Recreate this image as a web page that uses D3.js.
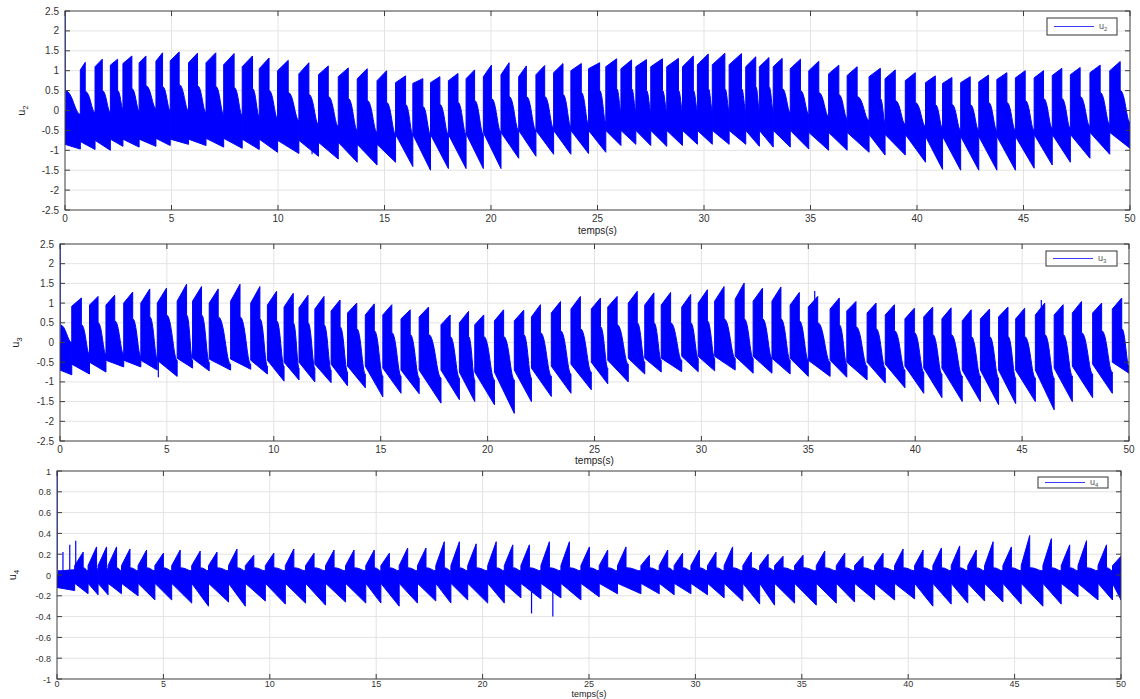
<!DOCTYPE html>
<html>
<head>
<meta charset="utf-8">
<script src="https://cdnjs.cloudflare.com/ajax/libs/d3/7.8.5/d3.min.js"></script>
<style>
  body { margin: 0; background: #fff; }
  text { font-family: "Liberation Sans", Arial, sans-serif; }
</style>
</head>
<body>
<svg id="chart" width="1140" height="699"></svg>
<script>
var timeTicks = [0, 5, 10, 15, 20, 25, 30, 35, 40, 45, 50];
var u23Ticks = [-2.5, -2, -1.5, -1, -0.5, 0, 0.5, 1, 1.5, 2, 2.5];
var u4Ticks = [-1, -0.8, -0.6, -0.4, -0.2, 0, 0.2, 0.4, 0.6, 0.8, 1];

// one row per oscillation burst:
// [start, peak time, top at start, top at peak, core after drop, core at next start, bottom at start, bottom at next start]
var u2Cycles = [
  [0, 0, 0.5, 0.5, 0.5, -0.1, -0.85, -0.97],
  [0.72, 0.95, 1.02, 1.21, 0.48, -0.05, -0.78, -0.98],
  [1.41, 1.75, 1.1, 1.29, 0.5, -0.05, -0.75, -1.0],
  [2.13, 2.47, 1.14, 1.29, 0.5, 0.05, -0.72, -0.9],
  [2.72, 3.14, 1.18, 1.37, 0.55, 0.0, -0.72, -0.92],
  [3.48, 3.8, 1.2, 1.37, 0.62, 0.05, -0.72, -0.9],
  [4.27, 4.58, 1.24, 1.45, 0.6, 0.0, -0.7, -0.88],
  [4.94, 5.36, 1.25, 1.47, 0.65, 0.0, -0.72, -0.85],
  [5.8, 6.22, 1.2, 1.44, 0.62, -0.05, -0.72, -0.88],
  [6.62, 7.08, 1.2, 1.45, 0.6, -0.1, -0.7, -0.92],
  [7.45, 7.94, 1.15, 1.43, 0.58, -0.12, -0.7, -0.95],
  [8.32, 8.8, 1.1, 1.37, 0.55, -0.15, -0.72, -0.98],
  [9.12, 9.58, 1.05, 1.32, 0.5, -0.2, -0.72, -1.05],
  [9.98, 10.48, 1.0, 1.26, 0.45, -0.25, -0.75, -1.08],
  [10.98, 11.45, 0.92, 1.2, 0.4, -0.35, -0.75, -1.15],
  [11.9, 12.36, 0.9, 1.12, 0.35, -0.4, -0.8, -1.22],
  [12.83, 13.3, 0.85, 1.07, 0.3, -0.5, -0.8, -1.3],
  [13.72, 14.19, 0.8, 1.05, 0.25, -0.55, -0.85, -1.37],
  [14.65, 15.1, 0.75, 1.0, 0.2, -0.6, -0.85, -1.3],
  [15.52, 15.99, 0.7, 0.87, 0.15, -0.6, -0.6, -1.41],
  [16.33, 16.8, 0.68, 0.8, 0.1, -0.6, -0.6, -1.5],
  [17.16, 17.6, 0.7, 0.85, 0.15, -0.6, -0.6, -1.46],
  [18.0, 18.45, 0.75, 0.93, 0.2, -0.6, -0.6, -1.46],
  [18.83, 19.23, 0.8, 1.02, 0.25, -0.6, -0.58, -1.46],
  [19.64, 20.02, 0.85, 1.14, 0.3, -0.55, -0.55, -1.46],
  [20.47, 20.85, 0.9, 1.2, 0.35, -0.5, -0.55, -1.2],
  [21.3, 21.66, 0.85, 1.12, 0.35, -0.5, -0.5, -1.15],
  [22.11, 22.52, 0.9, 1.13, 0.35, -0.45, -0.5, -1.1],
  [22.94, 23.38, 0.95, 1.18, 0.4, -0.4, -0.5, -1.1],
  [23.75, 24.24, 1.0, 1.18, 0.45, -0.35, -0.5, -1.08],
  [24.58, 25.1, 1.05, 1.2, 0.5, -0.3, -0.5, -1.05],
  [25.39, 25.9, 1.1, 1.3, 0.55, 0.0, -0.5, -0.88],
  [26.1, 26.6, 1.05, 1.27, 0.55, 0.0, -0.5, -0.85],
  [26.8, 27.3, 1.1, 1.28, 0.5, 0.0, -0.5, -0.88],
  [27.5, 28.05, 1.1, 1.3, 0.5, 0.0, -0.5, -0.9],
  [28.25, 28.8, 1.1, 1.31, 0.5, 0.0, -0.5, -0.88],
  [28.99, 29.5, 1.1, 1.37, 0.5, 0.0, -0.5, -0.85],
  [29.69, 30.2, 1.15, 1.42, 0.55, 0.0, -0.5, -0.85],
  [30.39, 30.98, 1.15, 1.44, 0.55, 0.0, -0.5, -0.85],
  [31.18, 31.76, 1.15, 1.43, 0.55, 0.0, -0.5, -0.85],
  [31.96, 32.43, 1.1, 1.35, 0.6, 0.0, -0.5, -0.9],
  [32.6, 33.05, 1.1, 1.33, 0.6, 0.0, -0.5, -0.92],
  [33.25, 33.67, 1.1, 1.31, 0.55, -0.05, -0.5, -0.92],
  [34.05, 34.53, 1.05, 1.29, 0.5, -0.1, -0.5, -0.97],
  [34.92, 35.39, 1.0, 1.24, 0.45, -0.15, -0.55, -1.0],
  [35.85, 36.33, 0.92, 1.14, 0.4, -0.2, -0.55, -1.0],
  [36.72, 37.19, 0.88, 1.1, 0.35, -0.25, -0.55, -1.05],
  [37.75, 38.28, 0.85, 1.06, 0.3, -0.3, -0.6, -1.12],
  [38.5, 38.98, 0.8, 1.02, 0.25, -0.35, -0.6, -1.12],
  [39.45, 39.92, 0.75, 0.95, 0.2, -0.4, -0.6, -1.3],
  [40.4, 40.86, 0.7, 0.87, 0.15, -0.45, -0.65, -1.48],
  [41.2, 41.64, 0.68, 0.83, 0.15, -0.5, -0.65, -1.5],
  [42.05, 42.5, 0.7, 0.85, 0.15, -0.5, -0.65, -1.5],
  [42.9, 43.36, 0.72, 0.89, 0.2, -0.5, -0.65, -1.5],
  [43.75, 44.22, 0.78, 0.95, 0.2, -0.5, -0.65, -1.5],
  [44.62, 45.08, 0.82, 1.0, 0.25, -0.5, -0.65, -1.45],
  [45.5, 45.94, 0.82, 1.0, 0.3, -0.45, -0.6, -1.37],
  [46.35, 46.8, 0.88, 1.06, 0.3, -0.45, -0.6, -1.3],
  [47.2, 47.66, 0.9, 1.08, 0.35, -0.4, -0.6, -1.2],
  [48.12, 48.6, 0.95, 1.14, 0.45, -0.35, -0.55, -1.1],
  [49.05, 49.54, 1.0, 1.23, 0.5, -0.3, -0.55, -0.95]
];

var u3Cycles = [
  [0, 0, 0.45, 0.45, 0.45, 0.0, -0.7, -0.82],
  [0.55, 1.0, 0.92, 1.13, 0.45, -0.3, -0.55, -0.8],
  [1.38, 1.78, 0.95, 1.17, 0.5, -0.3, -0.5, -0.75],
  [2.15, 2.56, 0.95, 1.2, 0.55, -0.3, -0.45, -0.62],
  [2.98, 3.4, 1.0, 1.28, 0.6, -0.35, -0.45, -0.62],
  [3.78, 4.2, 1.0, 1.36, 0.65, -0.4, -0.45, -0.7],
  [4.55, 4.98, 1.0, 1.38, 0.7, -0.45, -0.45, -0.86],
  [5.48, 5.92, 1.05, 1.48, 0.7, -0.45, -0.4, -0.65],
  [6.2, 6.62, 1.05, 1.42, 0.7, -0.5, -0.4, -0.72],
  [6.98, 7.4, 1.0, 1.36, 0.65, -0.55, -0.42, -0.7],
  [7.98, 8.42, 1.05, 1.48, 0.65, -0.55, -0.42, -0.68],
  [8.92, 9.35, 1.0, 1.42, 0.6, -0.6, -0.45, -0.8],
  [9.7, 10.13, 0.95, 1.3, 0.55, -0.6, -0.45, -0.98],
  [10.48, 10.91, 0.9, 1.25, 0.5, -0.65, -0.5, -0.95],
  [11.18, 11.6, 0.88, 1.2, 0.5, -0.65, -0.5, -1.0],
  [11.92, 12.35, 0.85, 1.17, 0.45, -0.7, -0.55, -1.02],
  [12.68, 13.1, 0.8, 1.08, 0.4, -0.75, -0.55, -1.1],
  [13.45, 13.88, 0.75, 1.0, 0.35, -0.8, -0.6, -1.15],
  [14.28, 14.7, 0.7, 0.98, 0.3, -0.85, -0.6, -1.38],
  [15.1, 15.52, 0.7, 0.96, 0.25, -0.85, -0.65, -1.29],
  [15.95, 16.38, 0.6, 0.83, 0.2, -0.9, -0.7, -1.3],
  [16.8, 17.24, 0.65, 0.9, 0.2, -0.9, -0.7, -1.54],
  [17.82, 18.25, 0.45, 0.7, 0.15, -0.9, -0.7, -1.45],
  [18.68, 19.11, 0.5, 0.79, 0.15, -0.95, -0.75, -1.5],
  [19.4, 19.82, 0.45, 0.7, 0.15, -0.95, -0.75, -1.58],
  [20.32, 20.75, 0.55, 0.83, 0.15, -0.95, -0.75, -1.8],
  [21.25, 21.69, 0.55, 0.82, 0.2, -0.9, -0.7, -1.5],
  [22.05, 22.47, 0.65, 0.96, 0.25, -0.85, -0.65, -1.37],
  [22.98, 23.41, 0.75, 1.04, 0.3, -0.8, -0.6, -1.29],
  [23.9, 24.34, 0.85, 1.17, 0.35, -0.75, -0.55, -1.2],
  [24.85, 25.28, 0.85, 1.13, 0.4, -0.65, -0.5, -1.05],
  [25.62, 26.06, 0.9, 1.17, 0.45, -0.55, -0.45, -1.0],
  [26.58, 27.0, 1.0, 1.3, 0.5, -0.5, -0.4, -0.8],
  [27.35, 27.78, 0.95, 1.26, 0.5, -0.45, -0.4, -0.75],
  [28.12, 28.56, 0.95, 1.27, 0.5, -0.45, -0.4, -0.74],
  [29.08, 29.5, 0.9, 1.22, 0.5, -0.4, -0.35, -0.74],
  [29.85, 30.28, 1.0, 1.34, 0.55, -0.4, -0.35, -0.72],
  [30.62, 31.06, 1.05, 1.42, 0.6, -0.4, -0.35, -0.7],
  [31.58, 32.0, 1.1, 1.51, 0.6, -0.4, -0.35, -0.78],
  [32.42, 32.86, 1.05, 1.38, 0.6, -0.4, -0.35, -0.78],
  [33.3, 33.72, 1.05, 1.41, 0.6, -0.45, -0.4, -0.8],
  [34.15, 34.58, 0.95, 1.27, 0.55, -0.45, -0.4, -0.86],
  [35.0, 35.44, 0.9, 1.17, 0.5, -0.5, -0.45, -0.86],
  [36.02, 36.45, 0.85, 1.13, 0.45, -0.55, -0.45, -0.88],
  [36.8, 37.23, 0.8, 1.04, 0.4, -0.6, -0.5, -0.95],
  [37.75, 38.17, 0.75, 1.0, 0.35, -0.65, -0.5, -1.03],
  [38.6, 39.03, 0.7, 0.96, 0.3, -0.7, -0.55, -1.15],
  [39.52, 39.96, 0.6, 0.87, 0.25, -0.75, -0.6, -1.29],
  [40.4, 40.82, 0.65, 0.9, 0.2, -0.8, -0.65, -1.4],
  [41.25, 41.68, 0.6, 0.88, 0.2, -0.85, -0.65, -1.5],
  [42.2, 42.62, 0.55, 0.83, 0.15, -0.85, -0.7, -1.5],
  [43.05, 43.48, 0.6, 0.85, 0.15, -0.9, -0.7, -1.58],
  [43.9, 44.34, 0.65, 0.9, 0.15, -0.9, -0.7, -1.55],
  [44.7, 45.12, 0.6, 0.87, 0.15, -0.9, -0.7, -1.5],
  [45.62, 46.06, 0.7, 1.0, 0.2, -0.9, -0.7, -1.71],
  [46.5, 46.92, 0.7, 0.96, 0.2, -0.85, -0.65, -1.5],
  [47.35, 47.78, 0.75, 1.04, 0.25, -0.8, -0.6, -1.4],
  [48.3, 48.72, 0.75, 1.0, 0.3, -0.75, -0.55, -1.29],
  [49.22, 49.66, 0.85, 1.13, 0.35, -0.6, -0.5, -0.78]
];

var u4Cycles = [
  [0, 0, 0.04, 0.04, 0.04, 0.05, -0.12, -0.15],
  [0.83, 1.23, 0.09, 0.22, 0.07, 0.04, -0.08, -0.18],
  [1.46, 1.86, 0.09, 0.27, 0.07, 0.04, -0.08, -0.19],
  [1.93, 2.33, 0.09, 0.27, 0.07, 0.04, -0.08, -0.19],
  [2.4, 2.8, 0.09, 0.27, 0.07, 0.04, -0.08, -0.18],
  [3.03, 3.43, 0.09, 0.25, 0.07, 0.04, -0.08, -0.2],
  [3.81, 4.21, 0.09, 0.24, 0.07, 0.04, -0.08, -0.24],
  [4.6, 5.0, 0.09, 0.21, 0.07, 0.04, -0.08, -0.24],
  [5.39, 5.79, 0.09, 0.24, 0.07, 0.04, -0.08, -0.27],
  [6.33, 6.73, 0.09, 0.23, 0.07, 0.04, -0.08, -0.3],
  [7.12, 7.52, 0.09, 0.22, 0.07, 0.04, -0.08, -0.26],
  [8.06, 8.46, 0.09, 0.25, 0.07, 0.04, -0.08, -0.3],
  [8.85, 9.25, 0.09, 0.19, 0.07, 0.04, -0.08, -0.25],
  [9.79, 10.19, 0.09, 0.21, 0.07, 0.04, -0.08, -0.28],
  [10.73, 11.13, 0.09, 0.25, 0.07, 0.04, -0.08, -0.27],
  [11.68, 12.08, 0.09, 0.21, 0.07, 0.04, -0.08, -0.29],
  [12.62, 13.02, 0.09, 0.24, 0.07, 0.04, -0.08, -0.26],
  [13.56, 13.96, 0.09, 0.24, 0.07, 0.04, -0.08, -0.27],
  [14.51, 14.91, 0.09, 0.24, 0.07, 0.04, -0.08, -0.27],
  [15.22, 15.62, 0.09, 0.21, 0.07, 0.04, -0.08, -0.3],
  [16.08, 16.48, 0.09, 0.26, 0.07, 0.04, -0.08, -0.27],
  [16.94, 17.34, 0.09, 0.26, 0.07, 0.04, -0.08, -0.25],
  [17.8, 18.2, 0.09, 0.32, 0.07, 0.04, -0.08, -0.27],
  [18.51, 18.91, 0.09, 0.32, 0.07, 0.04, -0.08, -0.24],
  [19.3, 19.7, 0.09, 0.3, 0.07, 0.04, -0.08, -0.27],
  [20.24, 20.64, 0.09, 0.32, 0.07, 0.04, -0.08, -0.27],
  [21.02, 21.42, 0.09, 0.29, 0.07, 0.04, -0.08, -0.22],
  [21.8, 22.2, 0.09, 0.29, 0.07, 0.04, -0.08, -0.23],
  [22.74, 23.14, 0.09, 0.32, 0.07, 0.04, -0.08, -0.22],
  [23.68, 24.08, 0.09, 0.32, 0.07, 0.04, -0.08, -0.24],
  [24.62, 25.02, 0.09, 0.27, 0.07, 0.04, -0.08, -0.21],
  [25.48, 25.88, 0.09, 0.24, 0.07, 0.04, -0.08, -0.18],
  [26.34, 26.74, 0.09, 0.27, 0.07, 0.04, -0.08, -0.18],
  [27.44, 27.84, 0.09, 0.19, 0.07, 0.04, -0.08, -0.18],
  [28.3, 28.7, 0.09, 0.24, 0.07, 0.04, -0.08, -0.19],
  [29.0, 29.4, 0.09, 0.21, 0.07, 0.04, -0.08, -0.18],
  [29.79, 30.19, 0.09, 0.24, 0.07, 0.04, -0.08, -0.19],
  [30.57, 30.97, 0.09, 0.22, 0.07, 0.04, -0.08, -0.22],
  [31.35, 31.75, 0.09, 0.27, 0.07, 0.04, -0.08, -0.25],
  [32.23, 32.63, 0.09, 0.22, 0.07, 0.04, -0.08, -0.28],
  [33.02, 33.42, 0.09, 0.2, 0.07, 0.04, -0.08, -0.29],
  [33.72, 34.12, 0.09, 0.18, 0.07, 0.04, -0.08, -0.27],
  [34.66, 35.06, 0.09, 0.19, 0.07, 0.04, -0.08, -0.29],
  [35.68, 36.08, 0.09, 0.23, 0.07, 0.04, -0.08, -0.27],
  [36.62, 37.02, 0.09, 0.21, 0.07, 0.04, -0.08, -0.26],
  [37.48, 37.88, 0.09, 0.18, 0.07, 0.04, -0.08, -0.24],
  [38.42, 38.82, 0.09, 0.21, 0.07, 0.04, -0.08, -0.24],
  [39.36, 39.76, 0.09, 0.25, 0.07, 0.04, -0.08, -0.23],
  [40.3, 40.7, 0.09, 0.24, 0.07, 0.04, -0.08, -0.3],
  [41.16, 41.56, 0.09, 0.26, 0.07, 0.04, -0.08, -0.28],
  [42.02, 42.42, 0.09, 0.28, 0.07, 0.04, -0.08, -0.27],
  [42.8, 43.2, 0.09, 0.24, 0.07, 0.04, -0.08, -0.25],
  [43.59, 43.99, 0.09, 0.32, 0.07, 0.04, -0.08, -0.26],
  [44.45, 44.85, 0.09, 0.27, 0.07, 0.04, -0.08, -0.28],
  [45.31, 45.71, 0.09, 0.38, 0.07, 0.04, -0.08, -0.3],
  [46.33, 46.73, 0.09, 0.35, 0.07, 0.04, -0.08, -0.28],
  [47.19, 47.59, 0.09, 0.29, 0.07, 0.04, -0.08, -0.21],
  [47.98, 48.38, 0.09, 0.33, 0.07, 0.04, -0.08, -0.24],
  [48.92, 49.32, 0.09, 0.29, 0.07, 0.04, -0.08, -0.24],
  [49.6, 50, 0.09, 0.18, 0.07, 0.04, -0.08, -0.24]
];

// isolated thin excursions [time, value]
var u2Spikes = [[0, 2.5], [8.8, 1.3], [11.6, -1.1]];
var u3Spikes = [[0, 2.5], [4.6, -0.88], [35.3, 1.31], [45.9, 1.08]];
var u4Spikes = [[0, 1], [0.28, 0.22], [0.6, 0.29], [0.88, 0.33], [22.3, -0.37], [23.3, -0.4]];

var panels = [
  {sub: "2", cycles: u2Cycles, spikes: u2Spikes, ticks: u23Ticks, domain: [-2.5, 2.5],
   left: 65, right: 1130, top: 11, bottom: 210, tickGap: 12, titleY: 234, ylabX: 25, fs: 10,
   legend: {x: 1047, y: 18, w: 70, h: 17}},
  {sub: "3", cycles: u3Cycles, spikes: u3Spikes, ticks: u23Ticks, domain: [-2.5, 2.5],
   left: 60, right: 1129, top: 244, bottom: 441, tickGap: 12, titleY: 464, ylabX: 19, fs: 10,
   legend: {x: 1046, y: 251, w: 71, h: 15}},
  {sub: "4", cycles: u4Cycles, spikes: u4Spikes, ticks: u4Ticks, domain: [-1, 1],
   left: 57, right: 1121, top: 471, bottom: 679, tickGap: 8, titleY: 697, ylabX: 16, fs: 9,
   legend: {x: 1038, y: 477, w: 70, h: 11}}
];

var svg = d3.select("#chart");
var blue = "#0000ff";

panels.forEach(function (p, i) {
  var x = d3.scaleLinear().domain([0, 50]).range([p.left, p.right]);
  var y = d3.scaleLinear().domain(p.domain).range([p.bottom, p.top]);
  var g = svg.append("g");

  g.append("clipPath").attr("id", "clip" + i)
    .append("rect")
      .attr("x", p.left).attr("y", p.top)
      .attr("width", p.right - p.left).attr("height", p.bottom - p.top);

  // grid
  g.selectAll(".vgrid").data(timeTicks.slice(1, -1)).enter()
    .append("line")
      .attr("x1", function (d) { return x(d); }).attr("x2", function (d) { return x(d); })
      .attr("y1", p.top).attr("y2", p.bottom)
      .attr("stroke", "#e3e3e3").attr("stroke-width", 1);
  g.selectAll(".hgrid").data(p.ticks.slice(1, -1)).enter()
    .append("line")
      .attr("y1", function (d) { return y(d); }).attr("y2", function (d) { return y(d); })
      .attr("x1", p.left).attr("x2", p.right)
      .attr("stroke", "#e3e3e3").attr("stroke-width", 1);

  var plot = g.append("g").attr("clip-path", "url(#clip" + i + ")");

  // each burst: rising top edge, drop to the core curve, sloped bottom edge
  plot.selectAll(".burst").data(p.cycles).enter()
    .append("path")
      .attr("d", function (d, k) {
        var next = k < p.cycles.length - 1 ? p.cycles[k + 1][0] : 50;
        var xs = x(d[0]), xp = x(d[1]), xn = x(next), w = xn - xp;
        var path = d3.path();
        path.moveTo(xs, y(d[2]));
        path.lineTo(xp, y(d[3]));
        path.lineTo(xp, y(d[4]));
        path.bezierCurveTo(xp + 0.5 * w, y(d[4]), xn - 0.35 * w, y(d[5]), xn, y(d[5]));
        path.lineTo(xn, y(d[7]));
        path.lineTo(xs, y(d[6]));
        path.closePath();
        return path.toString();
      })
      .attr("fill", blue)
      .attr("stroke", blue)
      .attr("stroke-width", 1);

  plot.selectAll(".spike").data(p.spikes).enter()
    .append("line")
      .attr("x1", function (d) { return x(d[0]); }).attr("x2", function (d) { return x(d[0]); })
      .attr("y1", y(0)).attr("y2", function (d) { return y(d[1]); })
      .attr("stroke", function (d) { return d[0] === 0 ? "#4a4aff" : blue; })
      .attr("stroke-width", function (d) { return d[0] === 0 ? 2 : 1.2; });

  // box + inward ticks
  g.append("rect")
    .attr("x", p.left).attr("y", p.top)
    .attr("width", p.right - p.left).attr("height", p.bottom - p.top)
    .attr("fill", "none").attr("stroke", "#3c3c3c").attr("stroke-width", 1);

  g.selectAll(".xt").data(timeTicks).enter()
    .append("path")
      .attr("d", function (d) {
        return "M" + x(d) + "," + p.bottom + "v-5M" + x(d) + "," + p.top + "v5";
      })
      .attr("stroke", "#3c3c3c");
  g.selectAll(".yt").data(p.ticks).enter()
    .append("path")
      .attr("d", function (d) {
        return "M" + p.left + "," + y(d) + "h5M" + p.right + "," + y(d) + "h-5";
      })
      .attr("stroke", "#3c3c3c");

  g.selectAll(".xl").data(timeTicks).enter()
    .append("text")
      .attr("x", function (d) { return x(d); })
      .attr("y", p.bottom + p.tickGap)
      .attr("text-anchor", "middle")
      .attr("font-size", p.fs)
      .attr("fill", "#333")
      .text(function (d) { return d; });
  g.selectAll(".yl").data(p.ticks).enter()
    .append("text")
      .attr("x", p.left - 6)
      .attr("y", function (d) { return y(d) + 3.5; })
      .attr("text-anchor", "end")
      .attr("font-size", p.fs)
      .attr("fill", "#333")
      .text(function (d) { return d; });

  g.append("text")
    .attr("x", (p.left + p.right) / 2)
    .attr("y", p.titleY)
    .attr("text-anchor", "middle")
    .attr("font-size", p.fs)
    .attr("fill", "#222")
    .text("temps(s)");

  var yl = g.append("text")
    .attr("transform", "translate(" + p.ylabX + "," + (p.top + p.bottom) / 2 + ") rotate(-90)")
    .attr("text-anchor", "middle")
    .attr("font-size", 11)
    .attr("fill", "#222");
  yl.append("tspan").text("u");
  yl.append("tspan").attr("font-size", 8).attr("dy", 3).text(p.sub);

  // legend
  var L = p.legend;
  g.append("rect")
    .attr("x", L.x).attr("y", L.y).attr("width", L.w).attr("height", L.h)
    .attr("fill", "#fff").attr("stroke", "#333").attr("stroke-width", 1);
  g.append("line")
    .attr("x1", L.x + 7).attr("x2", L.x + 47)
    .attr("y1", L.y + L.h / 2).attr("y2", L.y + L.h / 2)
    .attr("stroke", "#3a3aff").attr("stroke-width", 1);
  var lt = g.append("text")
    .attr("x", L.x + 52).attr("y", L.y + L.h / 2 + 2)
    .attr("font-size", 9).attr("fill", "#555");
  lt.append("tspan").text("u");
  lt.append("tspan").attr("font-size", 6).attr("dy", 2).text(p.sub);
});
</script>
</body>
</html>
